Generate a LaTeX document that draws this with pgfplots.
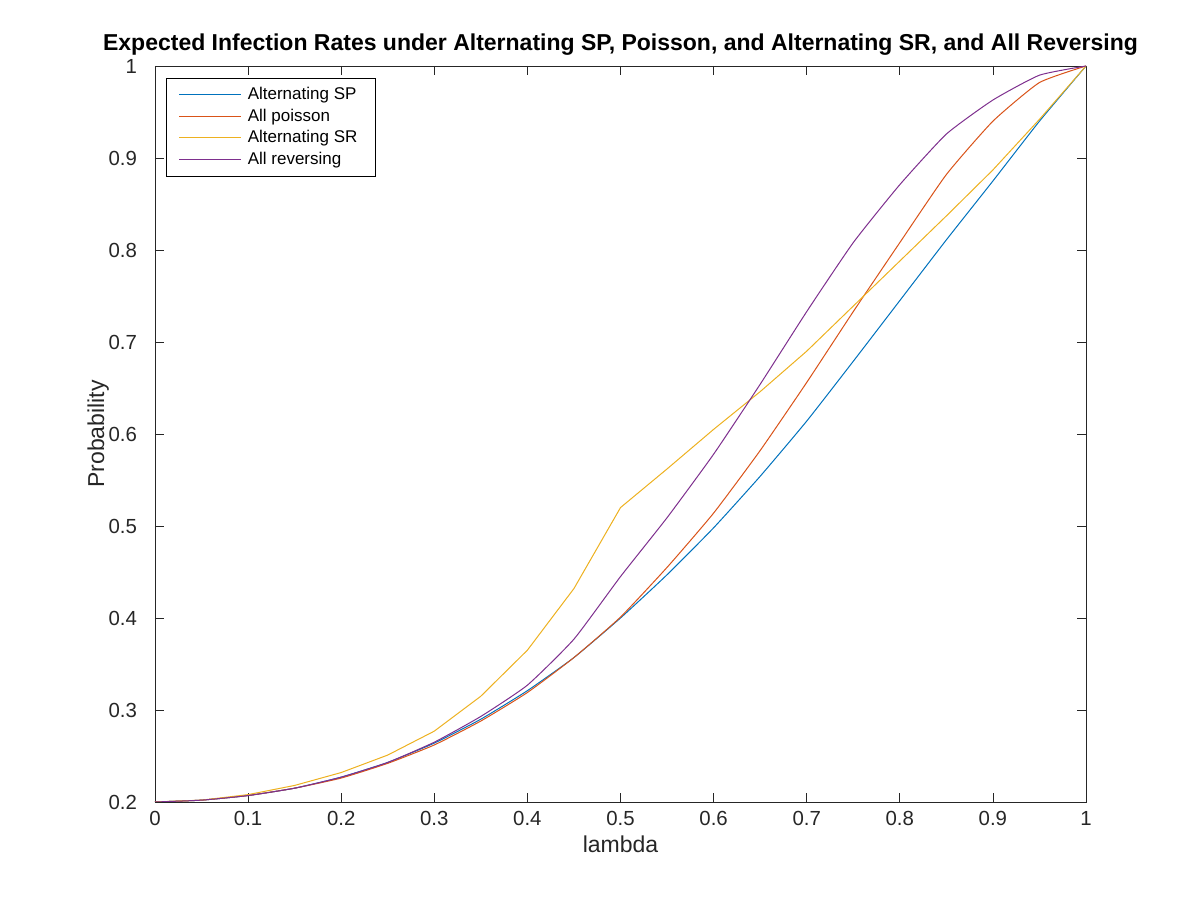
\documentclass[border=0pt]{standalone}
\usepackage{fontspec}
\setmainfont{Liberation Sans}
\usepackage{pgfplots}
\pgfplotsset{compat=1.18}
\usetikzlibrary{calc}
\definecolor{mblue}{rgb}{0,0.447,0.741}
\definecolor{morange}{rgb}{0.85,0.325,0.098}
\definecolor{myellow}{rgb}{0.929,0.694,0.125}
\definecolor{mpurple}{rgb}{0.494,0.184,0.556}
\begin{document}
\begin{tikzpicture}
\begin{axis}[
  width=465.5pt, height=368pt, scale only axis,
  xmin=0, xmax=1, ymin=0.2, ymax=1,
  xtick={0,0.1,...,1.01}, ytick={0.2,0.3,...,1.01},
  tick align=inside, major tick length=4.6pt,
  tick style={line width=0.4pt, black!85},
  axis line style={line width=0.4pt, black!85},
  /pgf/number format/assume math mode=true,
  /pgf/number format/fixed,
  ticklabel style={font=\fontsize{10.2}{12}\selectfont, text=black!85},
  yticklabel style={xshift=-5.5pt},
  xticklabel style={yshift=-1pt},
  xlabel={lambda}, ylabel={Probability},
  label style={font=\fontsize{11.5}{13}\selectfont, text=black!85},
  xlabel style={yshift=1.5pt},
  ylabel style={yshift=-7pt},
  title={Expected Infection Rates under Alternating SP, Poisson, and Alternating SR, and All Reversing},
  title style={font=\bfseries\fontsize{11.5}{13}\selectfont, yshift=-4pt},
  legend style={at={(rel axis cs:0.012,0.984)}, anchor=north west,
    font=\fontsize{8.5}{10}\selectfont, draw=black, line width=0.4pt,
    row sep=-0.9pt, inner xsep=6pt, inner ysep=2.5pt,
    nodes={inner xsep=3pt}},
  legend cell align=left,
  legend image code/.code={\draw[#1, line width=0.6pt] (0cm,0cm) -- (1.09cm,0cm);},
  every axis plot/.append style={line width=0.5pt},
]
\addplot[mblue, smooth, tension=0.3] coordinates {
(0,0.200) (0.05,0.202) (0.1,0.207) (0.15,0.215) (0.2,0.227) (0.25,0.243)
(0.3,0.264) (0.35,0.290) (0.4,0.321) (0.45,0.357) (0.5,0.400) (0.55,0.447)
(0.6,0.498) (0.65,0.554) (0.7,0.614) (0.75,0.679) (0.8,0.745) (0.85,0.811)
(0.9,0.875) (0.95,0.940) (1,1.0)};
\addlegendentry{Alternating SP}
\addplot[morange, smooth, tension=0.3] coordinates {
(0,0.200) (0.05,0.202) (0.1,0.207) (0.15,0.215) (0.2,0.226) (0.25,0.242)
(0.3,0.262) (0.35,0.288) (0.4,0.319) (0.45,0.357) (0.5,0.401) (0.55,0.455)
(0.6,0.514) (0.65,0.582) (0.7,0.656) (0.75,0.733) (0.8,0.808) (0.85,0.882)
(0.9,0.940) (0.95,0.982) (1,1.0)};
\addlegendentry{All poisson}
\addplot[myellow] coordinates {
(0,0.200) (0.05,0.202) (0.1,0.208) (0.15,0.218) (0.2,0.232) (0.25,0.251)
(0.3,0.277) (0.35,0.315) (0.4,0.365) (0.45,0.432) (0.5,0.520) (0.55,0.562)
(0.6,0.605) (0.65,0.646) (0.7,0.690) (0.75,0.739) (0.8,0.788) (0.85,0.837)
(0.9,0.887) (0.95,0.942) (1,1.0)};
\addlegendentry{Alternating SR}
\addplot[mpurple, smooth, tension=0.3] coordinates {
(0,0.200) (0.05,0.202) (0.1,0.207) (0.15,0.215) (0.2,0.227) (0.25,0.243)
(0.3,0.265) (0.35,0.293) (0.4,0.327) (0.45,0.377) (0.5,0.445) (0.55,0.509)
(0.6,0.578) (0.65,0.654) (0.7,0.733) (0.75,0.808) (0.8,0.871) (0.85,0.926)
(0.9,0.963) (0.95,0.990) (1,1.0)};
\addlegendentry{All reversing}
\end{axis}
\path[use as bounding box] ($(current axis.south west)+(-77.5pt,-49pt)$) rectangle ($(current axis.north east)+(57pt,33pt)$);
\end{tikzpicture}
\end{document}
